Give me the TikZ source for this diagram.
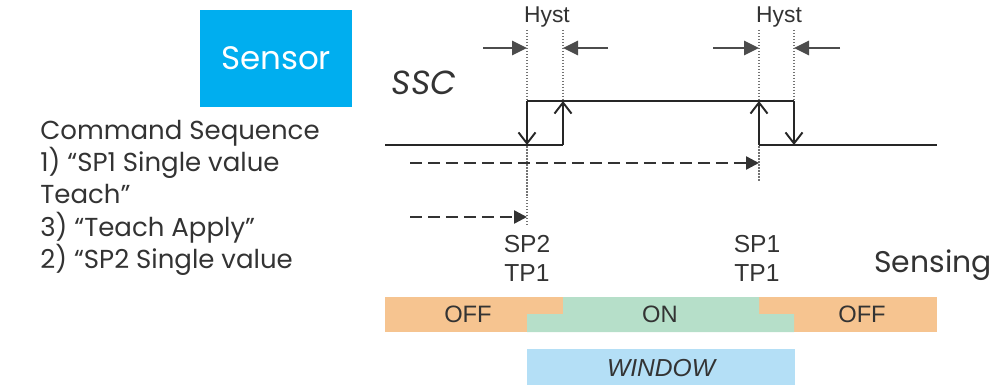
\documentclass[tikz,border=0pt]{standalone}
\usepackage{fontspec}
\setmainfont{Liberation Sans}
\newfontfamily\gothic{Poppins}
\usepackage{xcolor}
\usetikzlibrary{arrows.meta,positioning}
\definecolor{sensorblue}{HTML}{00AEEF}
\definecolor{offorange}{HTML}{F6C490}
\definecolor{ongreen}{HTML}{B6DFC9}
\definecolor{winblue}{HTML}{B4DFF6}
\definecolor{ink}{HTML}{333333}

\begin{document}
\begin{tikzpicture}[x=0.02cm, y=-0.02cm,
  sig/.style={line width=1.3pt, draw=black!85},
  flip/.style={sig, -{Straight Barb[length=2.2mm, width=3.4mm, line width=1.1pt]}},
  dim/.style={line width=1.7pt, draw=black!70, -{Triangle[length=3mm, width=2.8mm]}},
  dsh/.style={line width=1.4pt, draw=black!80, dash pattern=on 2.4mm off 1.2mm, -{Triangle[length=2.6mm, width=2.6mm]}},
  guide/.style={densely dotted, draw=black!55, line width=0.7pt},
  lbl/.style={font=\fontsize{13.5}{16}\selectfont, text=ink, inner sep=0pt},
  gth/.style={font=\gothic\fontsize{14.8}{18.3}\selectfont, text=ink, inner sep=0pt}
]
\useasboundingbox (0,0) rectangle (997,385);

\node[fill=sensorblue, minimum width=3.04cm, minimum height=1.96cm, text=white, font=\gothic\fontsize{18.5}{20}\selectfont] (sensor) at (276,58.5) {Sensor};
\node[gth, font=\gothic\itshape\fontsize{19}{20}\selectfont] (ssc) at (424,83) {SSC};
\node[gth, anchor=north west, align=left] (cmds) at (40,120) {Command Sequence\\1) “SP1 Single value\\Teach”\\3) “Teach Apply”\\2) “SP2 Single value};

\coordinate (left) at (385,145);
\coordinate (right) at (937,145);
\coordinate (sp2lo) at (527,145);
\coordinate (sp2hi) at (527,101);
\coordinate (h2lo) at (563,145);
\coordinate (h2hi) at (563,101);
\coordinate (sp1lo) at (759,145);
\coordinate (sp1hi) at (759,101);
\coordinate (h1lo) at (794,145);
\coordinate (h1hi) at (794,101);

\draw[guide] (527,30) -- (527,225);
\draw[guide] (563,30) -- (h2hi);
\draw[guide] (759,30) -- (759,182);
\draw[guide] (794,30) -- (h1hi);

\draw[sig] (left) -- (h2lo);
\draw[sig] (sp2hi) -- (h1hi);
\draw[sig] (sp1lo) -- (right);
\draw[flip] (sp2hi) -- (sp2lo);
\draw[flip] (h2lo) -- (h2hi);
\draw[flip] (sp1lo) -- (sp1hi);
\draw[flip] (h1hi) -- (h1lo);

\node[lbl, font=\fontsize{13}{16}\selectfont] (hyst2) at (547,17) {Hyst};
\node[lbl, font=\fontsize{13}{16}\selectfont] (hyst1) at (779,17) {Hyst};
\draw[dim] (483,48) -- (527,48);
\draw[dim] (608,48) -- (563,48);
\draw[dim] (713,48) -- (759,48);
\draw[dim] (840,48) -- (794,48);

\coordinate (dsh1) at (410,163);
\coordinate (dsh2) at (410,217);
\draw[dsh] (dsh1) -- (759,163);
\draw[dsh] (dsh2) -- (527,217);

\node[lbl, font=\fontsize{14}{16.5}\selectfont, align=center] (sp2) at (527,258) {SP2\\TP1};
\node[lbl, font=\fontsize{14}{16.5}\selectfont, align=center] (sp1) at (757,258) {SP1\\TP1};
\node[gth, font=\gothic\fontsize{17}{20}\selectfont] (sensing) at (933,265) {Sensing};

\fill[offorange] (385,297) rectangle (937,332);
\fill[ongreen] (563,297) -- (759,297) -- (759,314) -- (794,314) -- (794,332) -- (527,332) -- (527,314) -- (563,314) -- cycle;
\node[lbl] (offa) at (468,314) {OFF};
\node[lbl] (on) at (660,314) {ON};
\node[lbl] (offb) at (862,314) {OFF};

\fill[winblue] (527,349) rectangle (795,385);
\node[lbl, font=\itshape\fontsize{14}{16}\selectfont] (window) at (661,368) {WINDOW};
\end{tikzpicture}
\end{document}
